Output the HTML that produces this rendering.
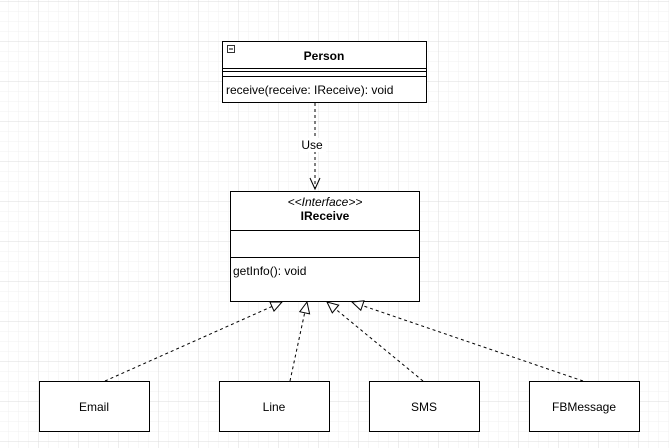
<!DOCTYPE html>
<html><head><style>
html,body{margin:0;padding:0;width:669px;height:448px;overflow:hidden;background:#fff}
svg{display:block}
text{font-family:"Liberation Sans",Arial,sans-serif;font-size:12px;fill:#000}
</style></head><body>
<svg width="669" height="448" viewBox="0 0 669 448" xmlns="http://www.w3.org/2000/svg">
<defs>
<pattern id="minor" x="-2" y="1" width="10" height="10" patternUnits="userSpaceOnUse">
<path d="M0 0H10M0 0V10" stroke="#f0f0f0" stroke-width="1" fill="none"/>
</pattern>
<pattern id="major" x="-2" y="1" width="40" height="40" patternUnits="userSpaceOnUse">
<path d="M0 0H40M0 0V40" stroke="#dcdcdc" stroke-width="1" fill="none"/>
</pattern>
<marker id="tri" markerWidth="14" markerHeight="14" refX="12" refY="6" orient="auto" markerUnits="userSpaceOnUse">
<path d="M1 1L12 6L1 11Z" fill="#fff" stroke="#000" stroke-width="1"/>
</marker>
<marker id="open" markerWidth="14" markerHeight="14" refX="12" refY="6" orient="auto" markerUnits="userSpaceOnUse">
<path d="M1 1L12 6L1 11" fill="none" stroke="#000" stroke-width="1"/>
</marker>
</defs>
<rect width="669" height="448" fill="url(#minor)"/>
<rect width="669" height="448" fill="url(#major)"/>

<rect x="222.5" y="41.5" width="204" height="61" fill="#fff" stroke="#000"/>
<line x1="222" y1="68.5" x2="427" y2="68.5" stroke="#000"/>
<line x1="222" y1="71.5" x2="427" y2="71.5" stroke="#000"/>
<line x1="222" y1="76.5" x2="427" y2="76.5" stroke="#000"/>
<rect x="227.5" y="45.5" width="7" height="7" fill="#fff" stroke="#000" stroke-width="0.8"/>
<line x1="229" y1="49" x2="233" y2="49" stroke="#000"/>
<text x="324" y="60" text-anchor="middle" font-weight="bold">Person</text>
<text x="226" y="94">receive(receive: IReceive): void</text>

<line x1="315" y1="103" x2="315" y2="189" stroke="#000" stroke-dasharray="3,3" marker-end="url(#open)"/>
<rect x="300" y="138" width="26" height="14" fill="#fff"/>
<text x="312" y="149" text-anchor="middle">Use</text>

<rect x="230.5" y="191.5" width="189" height="110" fill="#fff" stroke="#000"/>
<line x1="230" y1="230.5" x2="420" y2="230.5" stroke="#000"/>
<line x1="230" y1="257.5" x2="420" y2="257.5" stroke="#000"/>
<text x="325" y="206" text-anchor="middle" font-style="italic">&lt;&lt;Interface&gt;&gt;</text>
<text x="325" y="220" text-anchor="middle" font-weight="bold">IReceive</text>
<text x="233" y="275">getInfo(): void</text>

<g stroke="#000" stroke-dasharray="3,3" fill="none">
<line x1="105" y1="381" x2="282" y2="302" marker-end="url(#tri)"/>
<line x1="290" y1="381" x2="307" y2="302" marker-end="url(#tri)"/>
<line x1="423" y1="381" x2="327" y2="302" marker-end="url(#tri)"/>
<line x1="583" y1="381" x2="352" y2="302" marker-end="url(#tri)"/>
</g>

<g fill="#fff" stroke="#000">
<rect x="39.5" y="381.5" width="110" height="50"/>
<rect x="219.5" y="381.5" width="110" height="50"/>
<rect x="369.5" y="381.5" width="110" height="50"/>
<rect x="529.5" y="381.5" width="110" height="50"/>
</g>
<text x="94" y="411" text-anchor="middle">Email</text>
<text x="274" y="411" text-anchor="middle">Line</text>
<text x="424" y="411" text-anchor="middle">SMS</text>
<text x="584" y="411" text-anchor="middle">FBMessage</text>
</svg>
</body></html>
